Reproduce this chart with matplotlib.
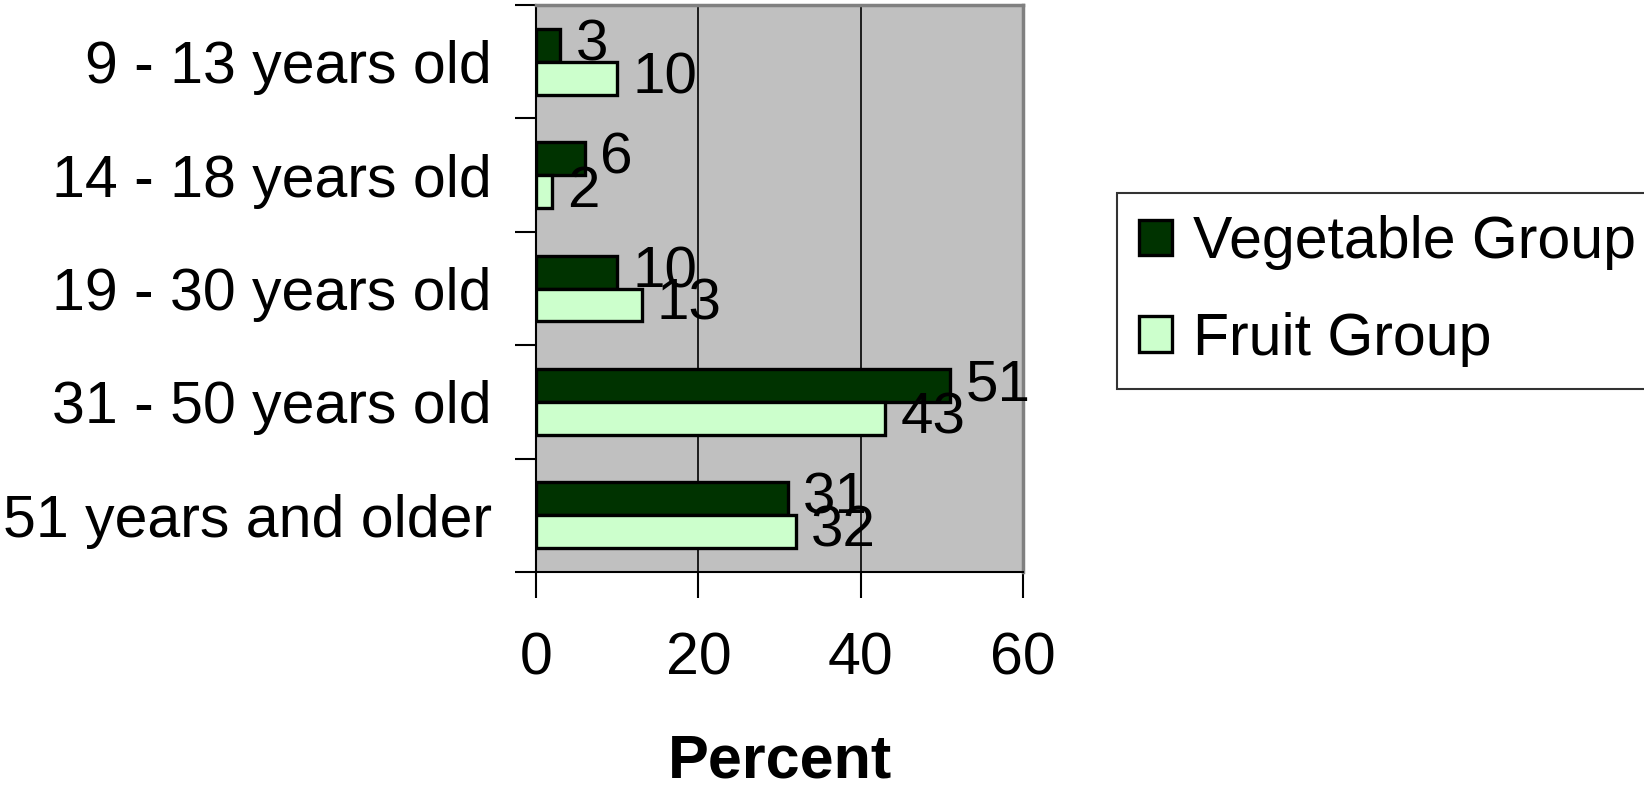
import numpy as np
import matplotlib
matplotlib.use("Agg")
import matplotlib.pyplot as plt
from matplotlib.ticker import FixedLocator, NullFormatter

plt.rcParams['font.family'] = ['Liberation Sans', 'DejaVu Sans']

# age groups, top to bottom
groups = ["9 - 13 years old", "14 - 18 years old", "19 - 30 years old",
          "31 - 50 years old", "51 years and older"]
vegetable = [3, 6, 10, 51, 31]
fruit = [10, 2, 13, 43, 32]
series_names = ["Vegetable Group", "Fruit Group"]
x_ticks = [0, 20, 40, 60]

veg_color = "#003300"
fruit_color = "#CCFFCC"
fs = 42.5

fig = plt.figure(figsize=(16.44, 7.91), dpi=100)
ax = fig.add_axes([536 / 1644, 1 - 572 / 791, (1023 - 536) / 1644, (572 - 5) / 791])
ax.set_facecolor("#C0C0C0")

y = np.arange(len(groups))
h = 0.29
b1 = ax.barh(y - h / 2, vegetable, height=h, color=veg_color, edgecolor="black",
             linewidth=2.4, label=series_names[0], zorder=3)
b2 = ax.barh(y + h / 2, fruit, height=h, color=fruit_color, edgecolor="black",
             linewidth=2.4, label=series_names[1], zorder=3)

# value labels next to each bar end
for bars, vals in ((b1, vegetable), (b2, fruit)):
    for bar, v in zip(bars, vals):
        ax.annotate(str(v), (v, bar.get_y() + bar.get_height() / 2),
                    xytext=(11, 0), textcoords="offset points",
                    ha="left", va="center", fontsize=42, zorder=4)

ax.set_xlim(0, 60)
ax.set_ylim(len(groups) - 0.5, -0.5)

# x axis
ax.set_xticks(x_ticks)
ax.tick_params(axis="x", direction="out", length=19, width=1.5, pad=24,
               labelsize=fs, color="black")
ax.xaxis.grid(True, color="black", linewidth=1.2, zorder=1)
ax.set_axisbelow(True)
ax.set_xlabel("Percent", fontsize=44, fontweight="bold", labelpad=34)

# y axis: tick marks between groups, labels centred on groups
ax.yaxis.set_major_locator(FixedLocator(np.arange(-0.5, len(groups), 1.0)))
ax.yaxis.set_major_formatter(NullFormatter())
ax.yaxis.set_minor_locator(FixedLocator(y))
ax.set_yticklabels(groups, minor=True)
ax.tick_params(axis="y", which="major", direction="out", length=15, width=1.5)
ax.tick_params(axis="y", which="minor", length=0, pad=32, labelsize=fs)

for side in ("left", "bottom"):
    ax.spines[side].set_color("black")
    ax.spines[side].set_linewidth(1.5)
for side in ("top", "right"):
    ax.spines[side].set_color("#808080")
    ax.spines[side].set_linewidth(2.5)

leg = fig.legend(handles=[b1, b2], loc="upper left",
                 bbox_to_anchor=(1117 / 1644, 1 - 193 / 791),
                 fontsize=fs, frameon=True, fancybox=False, shadow=False,
                 borderaxespad=0, borderpad=0.38, handlelength=0.55,
                 handleheight=0.55, handletextpad=0.35, labelspacing=0.7)
leg.get_frame().set_edgecolor("black")
leg.get_frame().set_linewidth(1.5)

fig.savefig("out.png", dpi=100)
